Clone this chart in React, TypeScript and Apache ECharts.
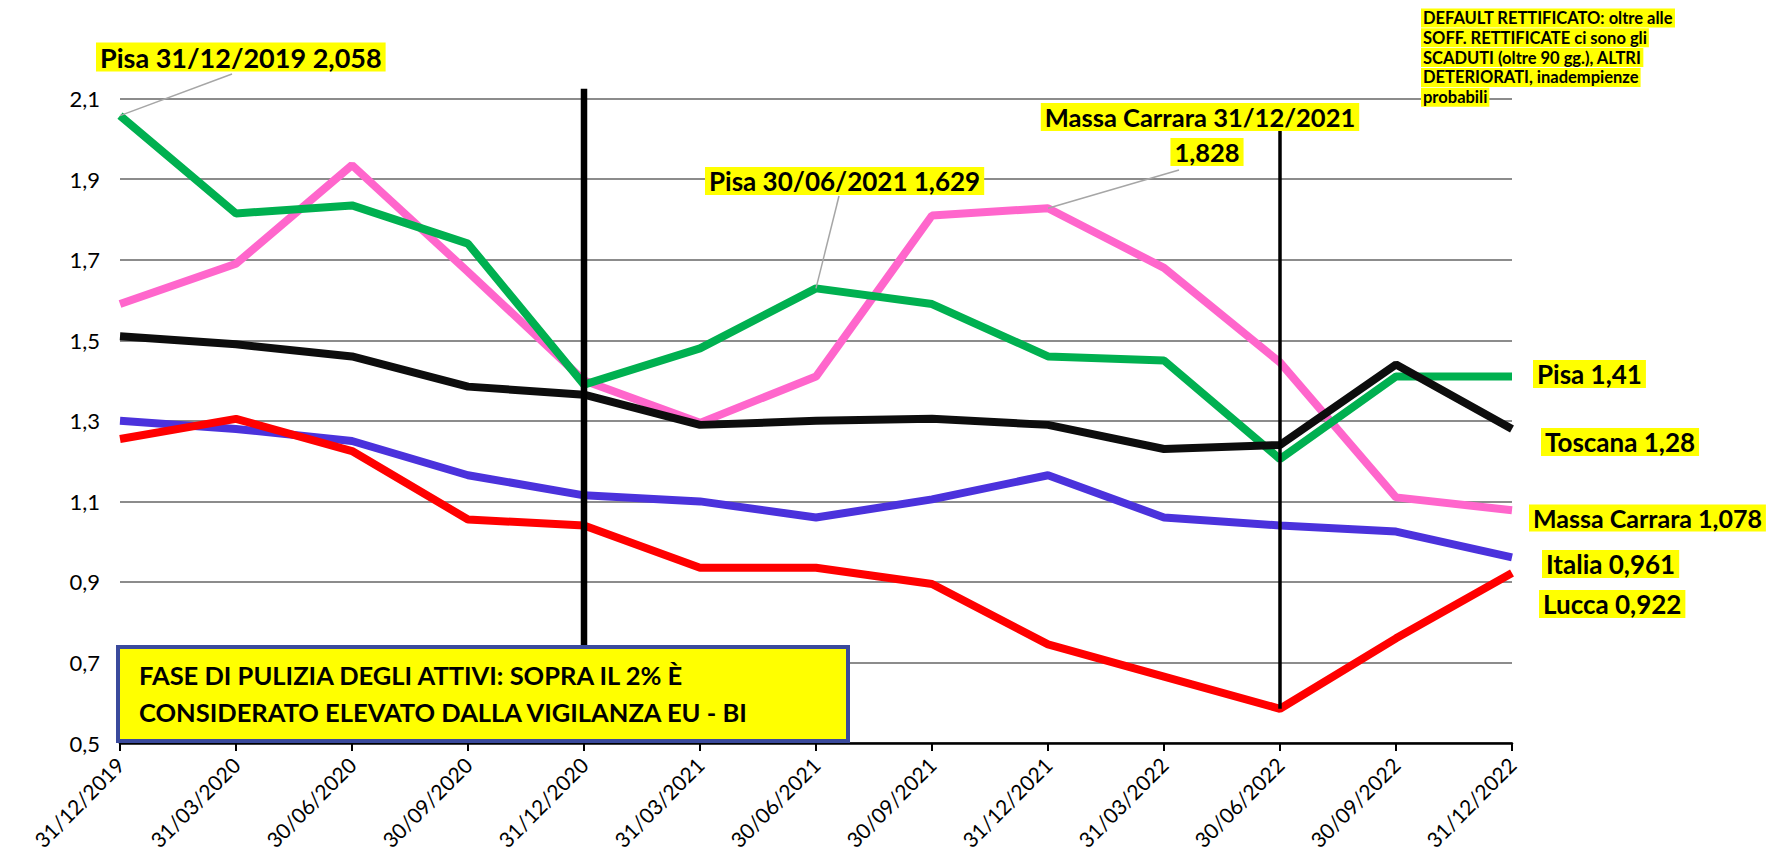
import React, { useEffect, useRef } from "react";
import * as echarts from "echarts";

const categories = [
  "31/12/2019", "31/03/2020", "30/06/2020", "30/09/2020", "31/12/2020", "31/03/2021",
  "30/06/2021", "30/09/2021", "31/12/2021", "31/03/2022", "30/06/2022", "30/09/2022", "31/12/2022",
];
const pisa = [2.058, 1.815, 1.835, 1.74, 1.39, 1.48, 1.629, 1.59, 1.46, 1.45, 1.205, 1.41, 1.41];
const massaCarrara = [1.59, 1.69, 1.935, 1.67, 1.4, 1.295, 1.41, 1.81, 1.828, 1.68, 1.445, 1.11, 1.078];
const toscana = [1.51, 1.49, 1.46, 1.385, 1.365, 1.29, 1.3, 1.305, 1.29, 1.23, 1.24, 1.44, 1.28];
const italia = [1.3, 1.28, 1.25, 1.165, 1.115, 1.1, 1.06, 1.105, 1.165, 1.06, 1.04, 1.025, 0.961];
const lucca = [1.255, 1.305, 1.225, 1.055, 1.04, 0.935, 0.935, 0.895, 0.745, 0.665, 0.585, 0.76, 0.922];

const yMin = 0.5;
const yMax = 2.1;
const yStep = 0.2;

// vertical marker lines: [category index, top value, bottom value]
const marker1 = [4, 2.125, 0.5];
const marker2 = [10, 2.035, 0.585];

const noteLines = [
  "DEFAULT RETTIFICATO: oltre alle",
  "SOFF. RETTIFICATE ci sono gli",
  "SCADUTI (oltre 90 gg.), ALTRI",
  "DETERIORATI, inadempienze",
  "probabili",
];
const boxLines = [
  "FASE DI PULIZIA DEGLI ATTIVI: SOPRA IL 2% È",
  "CONSIDERATO ELEVATO DALLA VIGILANZA EU - BI",
];

const FONT = "Lato, 'Open Sans', sans-serif";

export default function App() {
  const ref = useRef<HTMLDivElement>(null);
  useEffect(() => {
    if (!ref.current) return;
    const chart = echarts.init(ref.current, null, { renderer: "svg" });
    const lineSeries = (name: string, data: number[], color: string) => ({
      name,
      type: "line",
      data,
      symbol: "none",
      lineStyle: { color, width: 8 },
      itemStyle: { color },
      z: 3,
    });
    chart.setOption({
      animation: false,
      backgroundColor: "#ffffff",
      grid: { left: 120, right: 266, top: 98.7, bottom: 111, containLabel: false },
      xAxis: {
        type: "category",
        data: categories,
        boundaryGap: false,
        axisLine: { lineStyle: { color: "#000", width: 2.5 } },
        axisTick: { show: true, length: 8, lineStyle: { color: "#000", width: 2 } },
        axisLabel: { rotate: 45, fontSize: 21, fontFamily: FONT, color: "#000", margin: 18 },
        splitLine: { show: false },
      },
      yAxis: {
        type: "value",
        min: yMin,
        max: yMax,
        interval: yStep,
        axisLine: { show: false },
        axisTick: { show: false },
        axisLabel: {
          fontSize: 22,
          fontFamily: FONT,
          color: "#000",
          margin: 20,
          formatter: (v: number) => v.toFixed(1).replace(".", ","),
        },
        splitLine: { lineStyle: { color: "#8c8c8c", width: 2 } },
      },
      series: [
        lineSeries("Italia", italia, "#4B32DC"),
        lineSeries("Lucca", lucca, "#FF0000"),
        lineSeries("Massa Carrara", massaCarrara, "#FF66CC"),
        lineSeries("Pisa", pisa, "#00B050"),
        lineSeries("Toscana", toscana, "#0D0D0D"),
        {
          name: "m1",
          type: "line",
          data: [[marker1[0], marker1[1]], [marker1[0], marker1[2]]],
          symbol: "none",
          clip: false,
          lineStyle: { color: "#000", width: 6.5 },
          z: 5,
        },
        {
          name: "m2",
          type: "line",
          data: [[marker2[0], marker2[1]], [marker2[0], marker2[2]]],
          symbol: "none",
          clip: false,
          lineStyle: { color: "#000", width: 3.5 },
          z: 5,
        },
      ],
    });

    const px = (i: number, v: number) => chart.convertToPixel({ seriesIndex: 0 }, [i, v]) as number[];
    const label = (text: string, x: number, y: number, size = 27, align = "left") => ({
      type: "text",
      x,
      y,
      z: 200,
      style: {
        text,
        fontSize: size,
        fontWeight: "bold",
        fontFamily: FONT,
        fill: "#000",
        backgroundColor: "#FFFF00",
        padding: [1, 4],
        align,
        verticalAlign: "middle",
      },
    });
    const leader = (x1: number, y1: number, p: number[]) => ({
      type: "line",
      z: 150,
      shape: { x1, y1, x2: p[0], y2: p[1] },
      style: { stroke: "#A6A6A6", lineWidth: 1.5 },
    });

    const pPisa0 = px(0, pisa[0]);
    const pPisa6 = px(6, pisa[6]);
    const pMassa8 = px(8, massaCarrara[8]);

    const graphics: any[] = [
      leader(232, 74, pPisa0),
      leader(839, 196, pPisa6),
      leader(1179, 170, pMassa8),
      label("Pisa 31/12/2019 2,058", 96, 57),
      label("Pisa 30/06/2021 1,629", 705, 181, 26),
      label("Massa Carrara 31/12/2021", 1200, 117, 25.5, "center"),
      label("1,828", 1207, 152, 25.5, "center"),
      label("Pisa 1,41", 1533, 374, 26),
      label("Toscana 1,28", 1541, 442, 26),
      label("Massa Carrara 1,078", 1529, 518, 25),
      label("Italia 0,961", 1542, 564, 26),
      label("Lucca 0,922", 1539, 604, 26),
      {
        type: "rect",
        z: 180,
        shape: { x: 118, y: 647, width: 730, height: 94 },
        style: { fill: "#FFFF00", stroke: "#3A4A9C", lineWidth: 4 },
      },
    ];
    noteLines.forEach((t, k) => {
      graphics.push({
        type: "text",
        x: 1421,
        y: 18 + k * 19.8,
        z: 200,
        style: {
          text: t,
          fontSize: 16.5,
          fontWeight: "bold",
          fontFamily: FONT,
          fill: "#000",
          backgroundColor: "#FFFF00",
          padding: [1, 2],
          verticalAlign: "middle",
        },
      });
    });
    boxLines.forEach((t, k) => {
      graphics.push({
        type: "text",
        x: 139,
        y: 675 + k * 37,
        z: 200,
        style: {
          text: t,
          fontSize: 25.5,
          fontWeight: "bold",
          fontFamily: FONT,
          fill: "#000",
          verticalAlign: "middle",
        },
      });
    });
    chart.setOption({ graphic: graphics });

    return () => chart.dispose();
  }, []);
  return (
    <div
      ref={ref}
      style={{ position: "fixed", left: 0, top: 0, width: 1778, height: 854, background: "#fff" }}
    />
  );
}
